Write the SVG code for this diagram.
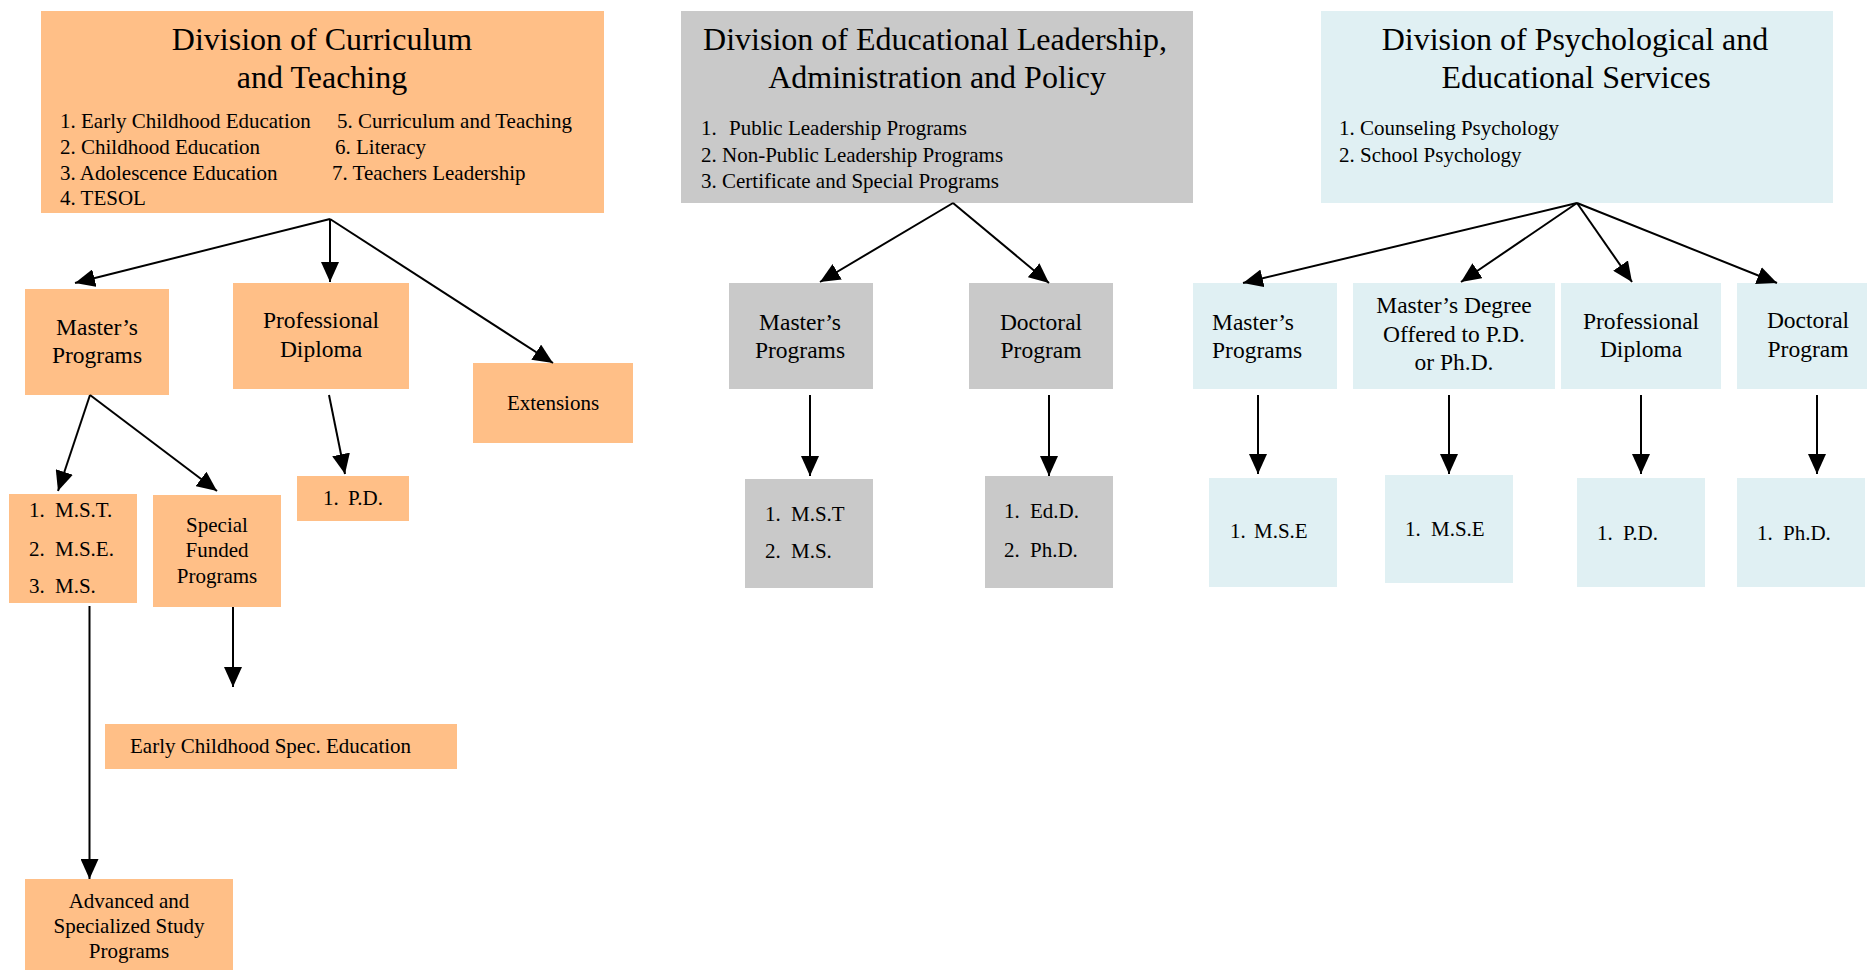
<svg xmlns="http://www.w3.org/2000/svg" width="1867" height="970" viewBox="0 0 1867 970">
<style>
text{font-family:"Liberation Serif","Times New Roman",serif;fill:#000}
.o{fill:#FFBF87}
.g{fill:#C9C9C9}
.b{fill:#E0F0F3}
.t{font-size:32px;text-anchor:middle}
.l{font-size:21px}
.n{font-size:23.5px;text-anchor:middle}
.ns{font-size:23.5px;text-anchor:start}
.s{font-size:21px;text-anchor:middle}
.c line{stroke:#000;stroke-width:2;marker-end:url(#ah)}
</style>
<defs>
<marker id="ah" markerUnits="userSpaceOnUse" markerWidth="20" markerHeight="18" refX="20" refY="9" orient="auto">
<path d="M0,0 L20,9 L0,18 z" fill="#000"/>
</marker>
</defs>
<rect width="1867" height="970" fill="#fff"/>

<g id="div-ct"><rect class="o" x="41" y="11" width="563" height="202"/>
<text class="t" x="322" y="50">Division of Curriculum</text>
<text class="t" x="322" y="88">and Teaching</text>
<text class="l" x="60" y="128">1. Early Childhood Education</text>
<text class="l" x="60" y="154">2. Childhood Education</text>
<text class="l" x="60" y="180">3. Adolescence Education</text>
<text class="l" x="60" y="205">4. TESOL</text>
<text class="l" x="337" y="128">5. Curriculum and Teaching</text>
<text class="l" x="335" y="154">6. Literacy</text>
<text class="l" x="332" y="180">7. Teachers Leadership</text>
</g>
<g id="ct-masters"><rect class="o" x="25" y="289" width="144" height="106"/>
<text class="n" x="97" y="335">Master’s</text><text class="n" x="97" y="363">Programs</text></g>
<g id="ct-profdip"><rect class="o" x="233" y="283" width="176" height="106"/>
<text class="n" x="321" y="328">Professional</text><text class="n" x="321" y="357">Diploma</text></g>
<g id="ct-ext"><rect class="o" x="473" y="363" width="160" height="80"/>
<text class="s" x="553" y="410">Extensions</text></g>
<g id="ct-mst"><rect class="o" x="9" y="494" width="128" height="109"/>
<text class="l" x="29" y="517">1.</text><text class="l" x="55" y="517">M.S.T.</text>
<text class="l" x="29" y="556">2.</text><text class="l" x="55" y="556">M.S.E.</text>
<text class="l" x="29" y="593">3.</text><text class="l" x="55" y="593">M.S.</text></g>
<g id="ct-special"><rect class="o" x="153" y="495" width="128" height="112"/>
<text class="s" x="217" y="532">Special</text><text class="s" x="217" y="557">Funded</text><text class="s" x="217" y="583">Programs</text></g>
<g id="ct-pd"><rect class="o" x="297" y="476" width="112" height="45"/>
<text class="l" x="323" y="505">1.</text><text class="l" x="348" y="505">P.D.</text></g>
<g id="ct-early"><rect class="o" x="105" y="724" width="352" height="45"/>
<text class="l" x="130" y="753">Early Childhood Spec. Education</text></g>
<g id="ct-adv"><rect class="o" x="25" y="879" width="208" height="91"/>
<text class="s" x="129" y="908">Advanced and</text><text class="s" x="129" y="933">Specialized Study</text><text class="s" x="129" y="958">Programs</text></g>

<g id="div-elap"><rect class="g" x="681" y="11" width="512" height="192"/>
<text class="t" x="935" y="50">Division of Educational Leadership,</text>
<text class="t" x="937" y="88">Administration and Policy</text>
<text class="l" x="701" y="135">1.</text><text class="l" x="729" y="135">Public Leadership Programs</text>
<text class="l" x="701" y="162">2. Non-Public Leadership Programs</text>
<text class="l" x="701" y="188">3. Certificate and Special Programs</text></g>
<g id="el-masters"><rect class="g" x="729" y="283" width="144" height="106"/>
<text class="n" x="800" y="330">Master’s</text><text class="n" x="800" y="358">Programs</text></g>
<g id="el-doctoral"><rect class="g" x="969" y="283" width="144" height="106"/>
<text class="n" x="1041" y="330">Doctoral</text><text class="n" x="1041" y="358">Program</text></g>
<g id="el-mst"><rect class="g" x="745" y="479" width="128" height="109"/>
<text class="l" x="765" y="521">1.</text><text class="l" x="791" y="521">M.S.T</text>
<text class="l" x="765" y="558">2.</text><text class="l" x="791" y="558">M.S.</text></g>
<g id="el-edd"><rect class="g" x="985" y="476" width="128" height="112"/>
<text class="l" x="1004" y="518">1.</text><text class="l" x="1030" y="518">Ed.D.</text>
<text class="l" x="1004" y="557">2.</text><text class="l" x="1030" y="557">Ph.D.</text></g>

<g id="div-pes"><rect class="b" x="1321" y="11" width="512" height="192"/>
<text class="t" x="1575" y="50">Division of Psychological and</text>
<text class="t" x="1576" y="88">Educational Services</text>
<text class="l" x="1339" y="135">1. Counseling Psychology</text>
<text class="l" x="1339" y="162">2. School Psychology</text></g>
<g id="ps-masters"><rect class="b" x="1193" y="283" width="144" height="106"/>
<text class="ns" x="1212" y="330">Master’s</text><text class="ns" x="1212" y="358">Programs</text></g>
<g id="ps-mdeg"><rect class="b" x="1353" y="283" width="202" height="106"/>
<text class="n" x="1454" y="313">Master’s Degree</text><text class="n" x="1454" y="342">Offered to P.D.</text><text class="n" x="1454" y="370">or Ph.D.</text></g>
<g id="ps-profdip"><rect class="b" x="1561" y="283" width="160" height="106"/>
<text class="n" x="1641" y="329">Professional</text><text class="n" x="1641" y="357">Diploma</text></g>
<g id="ps-doctoral"><rect class="b" x="1737" y="283" width="130" height="106"/>
<text class="n" x="1808" y="328">Doctoral</text><text class="n" x="1808" y="357">Program</text></g>
<g id="ps-mse1"><rect class="b" x="1209" y="478" width="128" height="109"/>
<text class="l" x="1230" y="538">1.</text><text class="l" x="1254" y="538">M.S.E</text></g>
<g id="ps-mse2"><rect class="b" x="1385" y="475" width="128" height="108"/>
<text class="l" x="1405" y="536">1.</text><text class="l" x="1431" y="536">M.S.E</text></g>
<g id="ps-pd"><rect class="b" x="1577" y="478" width="128" height="109"/>
<text class="l" x="1597" y="540">1.</text><text class="l" x="1623" y="540">P.D.</text></g>
<g id="ps-phd"><rect class="b" x="1737" y="478" width="128" height="109"/>
<text class="l" x="1757" y="540">1.</text><text class="l" x="1783" y="540">Ph.D.</text></g>

<g id="connectors" class="c">
<line x1="330" y1="219" x2="75" y2="283"/>
<line x1="330" y1="219" x2="330" y2="282"/>
<line x1="330" y1="219" x2="553" y2="363"/>
<line x1="90" y1="395" x2="58" y2="491"/>
<line x1="90" y1="395" x2="217" y2="491"/>
<line x1="329" y1="395" x2="345" y2="474"/>
<line x1="89.5" y1="606" x2="89.5" y2="879"/>
<line x1="233" y1="607" x2="233" y2="687"/>
<line x1="953" y1="203" x2="820" y2="282"/>
<line x1="953" y1="203" x2="1049" y2="283"/>
<line x1="810" y1="395" x2="810" y2="476"/>
<line x1="1049" y1="395" x2="1049" y2="476"/>
<line x1="1577" y1="203" x2="1243" y2="283"/>
<line x1="1577" y1="203" x2="1461" y2="282"/>
<line x1="1577" y1="203" x2="1632" y2="282"/>
<line x1="1577" y1="203" x2="1777" y2="283"/>
<line x1="1258" y1="395" x2="1258" y2="474"/>
<line x1="1449" y1="395" x2="1449" y2="474"/>
<line x1="1641" y1="395" x2="1641" y2="474"/>
<line x1="1817" y1="395" x2="1817" y2="474"/>
</g>
</svg>
